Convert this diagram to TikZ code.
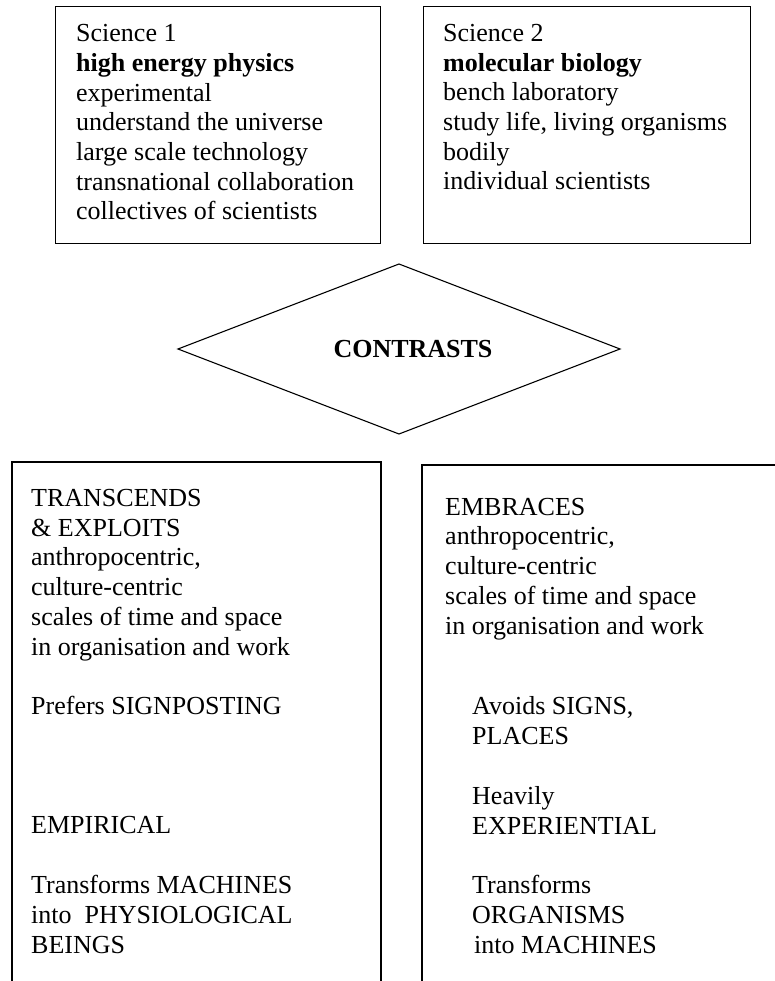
\documentclass[tikz,border=0pt]{standalone}
\usepackage{fontspec}
\setmainfont{Liberation Serif}
\begin{document}
\begin{tikzpicture}[x=1pt,y=-1pt,
  frame/.style={draw, line width=1.1pt},
  txt/.style={anchor=base west, inner sep=0pt, align=left, font=\fontsize{26}{29.7}\selectfont}]
\useasboundingbox (0,0) rectangle (774,981);
% top boxes
\node[frame, anchor=north west, minimum width=325pt, minimum height=237pt] (b1) at (55,6) {};
\node[frame, anchor=north west, minimum width=327pt, minimum height=237pt] (b2) at (423,6) {};
% (base anchor of a multi-line node = baseline of its last line)
\node[txt] (t1) at (76,220) {Science 1\\\textbf{high energy physics}\\experimental\\understand the universe\\large scale technology\\transnational collaboration\\collectives of scientists};
\node[txt] (t2) at (443,190) {Science 2\\\textbf{molecular biology}\\bench laboratory\\study life, living organisms\\bodily\\individual scientists};
% diamond
\coordinate (dt) at (399,264);
\coordinate (dr) at (620,349);
\coordinate (db) at (399,434);
\coordinate (dl) at (178,349);
\draw[line width=1.1pt, line join=miter] (dt) -- (dr) -- (db) -- (dl) -- cycle;
\node[font=\fontsize{26}{29.7}\selectfont\bfseries, inner sep=0pt] (c) at (413,349) {CONTRASTS};
% bottom boxes (open at bottom)
\coordinate (l1) at (12,981);
\coordinate (l2) at (381,981);
\coordinate (r1) at (422,981);
\coordinate (r2) at (780,465);
\draw[line width=1.1pt] (l1) |- (381,462) -- (l2);
\draw[line width=1.1pt] (r1) |- (r2);
\node[txt] (t3) at (31,655) {TRANSCENDS\\\& EXPLOITS\\anthropocentric,\\culture-centric\\scales of time and space\\in organisation and work};
\node[txt] (t4) at (31,714) {Prefers SIGNPOSTING};
\node[txt] (t5) at (31,833) {EMPIRICAL};
\node[txt] (t6) at (31,953) {Transforms MACHINES\\into~ PHYSIOLOGICAL\\BEINGS};
\node[txt] (t7) at (445,634) {EMBRACES\\anthropocentric,\\culture-centric\\scales of time and space\\in organisation and work};
\node[txt] (t8) at (472,744) {Avoids SIGNS,\\PLACES};
\node[txt] (t9) at (472,834) {Heavily\\EXPERIENTIAL};
\node[txt] (t10) at (472,953) {Transforms\\ORGANISMS\\\hspace{2pt}into MACHINES};
\end{tikzpicture}
\end{document}
